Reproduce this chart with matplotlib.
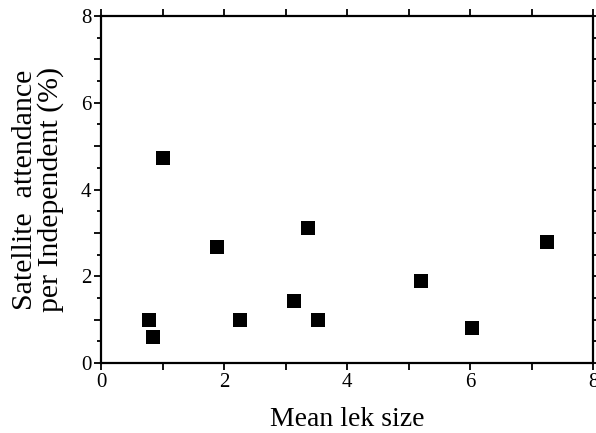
import matplotlib
matplotlib.use("Agg")
from matplotlib import pyplot as plt
from matplotlib.ticker import MultipleLocator, FuncFormatter

# mean lek size vs satellite attendance per independent (%)
lek_size = [0.78, 0.85, 1.00, 1.89, 2.26, 3.14, 3.37, 3.53, 5.20, 6.03, 7.25]
attendance = [1.00, 0.60, 4.72, 2.67, 0.99, 1.43, 3.11, 0.99, 1.89, 0.81, 2.79]

plt.rcParams['font.family'] = ['Liberation Serif', 'DejaVu Serif']

fig = plt.figure(figsize=(5.96, 4.33), dpi=100)
ax = fig.add_axes([0.1695, 0.1617, 0.8255, 0.8013])

ax.scatter(lek_size, attendance, marker='s', s=110, c='black', linewidths=0)

ax.set_xlim(0, 8)
ax.set_ylim(0, 8)

even_only = FuncFormatter(lambda v, pos: '%d' % v if round(v) % 2 == 0 else '')
ax.xaxis.set_major_locator(MultipleLocator(1))
ax.xaxis.set_major_formatter(even_only)
ax.yaxis.set_major_locator(MultipleLocator(1))
ax.yaxis.set_major_formatter(even_only)
ax.yaxis.set_minor_locator(MultipleLocator(0.5))

ax.tick_params(which='both', direction='out', top=True, right=True,
               labelsize=15, width=1.3, pad=2)
ax.tick_params(which='major', length=5)
ax.tick_params(which='minor', length=3)

for s in ax.spines.values():
    s.set_linewidth(1.6)

ax.set_xlabel('Mean lek size', fontsize=20, labelpad=11)
ax.set_ylabel('Satellite  attendance\nper Independent (%)', fontsize=21.5,
              labelpad=12, linespacing=0.95)

fig.savefig('out.png', dpi=100)
